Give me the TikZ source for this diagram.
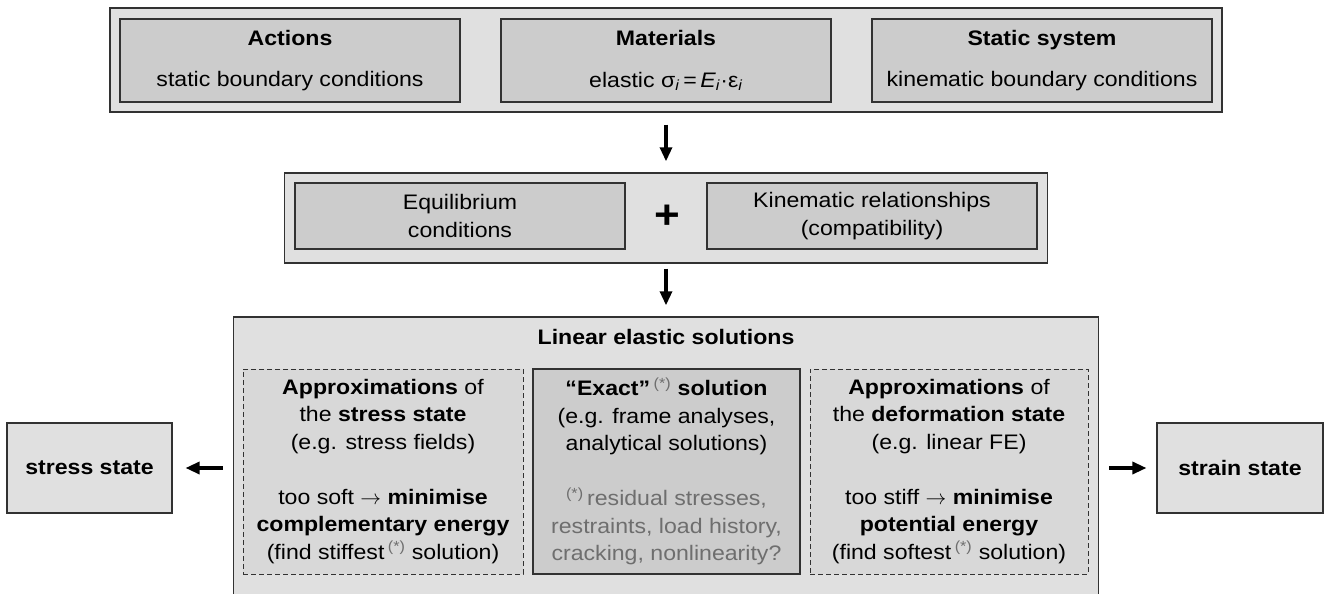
\documentclass[tikz,border=0pt]{standalone}
\usepackage{fontspec}
\setmainfont[FakeStretch=1.1]{Liberation Sans}
\usetikzlibrary{arrows.meta, positioning}
\definecolor{outerfill}{RGB}{224,224,224}
\definecolor{innerfill}{RGB}{204,204,204}
\definecolor{dashfill}{RGB}{216,216,216}
\definecolor{linegray}{RGB}{50,50,50}
\definecolor{notegray}{RGB}{110,110,110}
\newcommand{\stern}{\textcolor{notegray}{\textsuperscript{(*)}}}

\begin{document}
\begin{tikzpicture}[
    x=1pt, y=-1pt,
    font=\fontsize{21}{27.5}\selectfont,
    outerbox/.style={rectangle, draw=linegray, fill=outerfill, line width=1.4pt},
    innerbox/.style={rectangle, draw=linegray, fill=innerfill, line width=1.1pt, align=center},
    dashbox/.style={rectangle, draw=linegray, fill=dashfill, line width=1pt, dash pattern=on 5pt off 3pt, align=center},
    arrow/.style={-{Triangle[length=14pt, width=12pt]}, line width=3.2pt, black}
]

\clip (0,0) rectangle (1325,594);

% inputs
\node[outerbox, minimum width=1112pt, minimum height=104pt] (inputs) at (666,60) {};
\node[innerbox, minimum width=340pt, minimum height=83pt] (actions) at (290,60.5) {\textbf{Actions}\\[14pt]static boundary conditions};
\node[innerbox, minimum width=330pt, minimum height=83pt] (materials) at (666,60.5) {\textbf{Materials}\\[14pt]elastic σ\textsubscript{\textit{i}}\,=\,\textit{E}\textsubscript{\textit{i}}·ε\textsubscript{\textit{i}}};
\node[innerbox, minimum width=340pt, minimum height=83pt] (static) at (1042,60.5) {\textbf{Static system}\\[14pt]kinematic boundary conditions};

% governing relations
\node[outerbox, minimum width=763pt, minimum height=90pt] (laws) at (666,218) {};
\node[innerbox, minimum width=330pt, minimum height=66pt] (equilibrium) at (460,216) {Equilibrium\\conditions};
\node[font=\fontsize{40}{40}\selectfont\bfseries] (plus) at (667,217) {+};
\node[innerbox, minimum width=330pt, minimum height=66pt] (kinematic) at (872,216) {Kinematic relationships\\(compatibility)};

% solutions
\node[outerbox, minimum width=865pt, minimum height=287pt] (solutions) at (666,460.5) {};
\node[font=\fontsize{21}{27.5}\selectfont\bfseries] (soltitle) at (666,337) {Linear elastic solutions};
\node[dashbox, minimum width=280pt, minimum height=205pt] (stressapprox) at (383,471.5) {\textbf{Approximations} of\\the \textbf{stress state}\\(e.g. stress fields)\\[27.5pt]too soft $\rightarrow$ \textbf{minimise}\\\textbf{complementary energy}\\(find stiffest\,\stern\ solution)};
\node[innerbox, minimum width=267pt, minimum height=205pt] (exact) at (666.5,471.5) {\textbf{“Exact”}\,\stern\ \textbf{solution}\\(e.g. frame analyses,\\analytical solutions)\\[27.5pt]\textcolor{notegray}{\stern\,residual stresses,}\\\textcolor{notegray}{restraints, load history,}\\\textcolor{notegray}{cracking, nonlinearity?}};
\node[dashbox, minimum width=278pt, minimum height=205pt] (deformapprox) at (949,471.5) {\textbf{Approximations} of\\the \textbf{deformation state}\\(e.g. linear FE)\\[27.5pt]too stiff $\rightarrow$ \textbf{minimise}\\\textbf{potential energy}\\(find softest\,\stern\ solution)};

% results
\node[outerbox, line width=1.1pt, minimum width=165pt, minimum height=90pt] (stress) at (89.5,468) {\textbf{stress state}};
\node[outerbox, line width=1.1pt, minimum width=166pt, minimum height=90pt] (strain) at (1240,468) {\textbf{strain state}};

\draw[arrow, shorten <=12pt, shorten >=11pt] (inputs.south) -- (laws.north);
\draw[arrow, shorten <=5pt, shorten >=11pt] (laws.south) -- (solutions.north);
\draw[arrow, shorten <=10pt, shorten >=13pt] (solutions.west |- stress.east) -- (stress.east);
\draw[arrow, shorten <=10pt, shorten >=10pt] (solutions.east |- strain.west) -- (strain.west);

\end{tikzpicture}
\end{document}
